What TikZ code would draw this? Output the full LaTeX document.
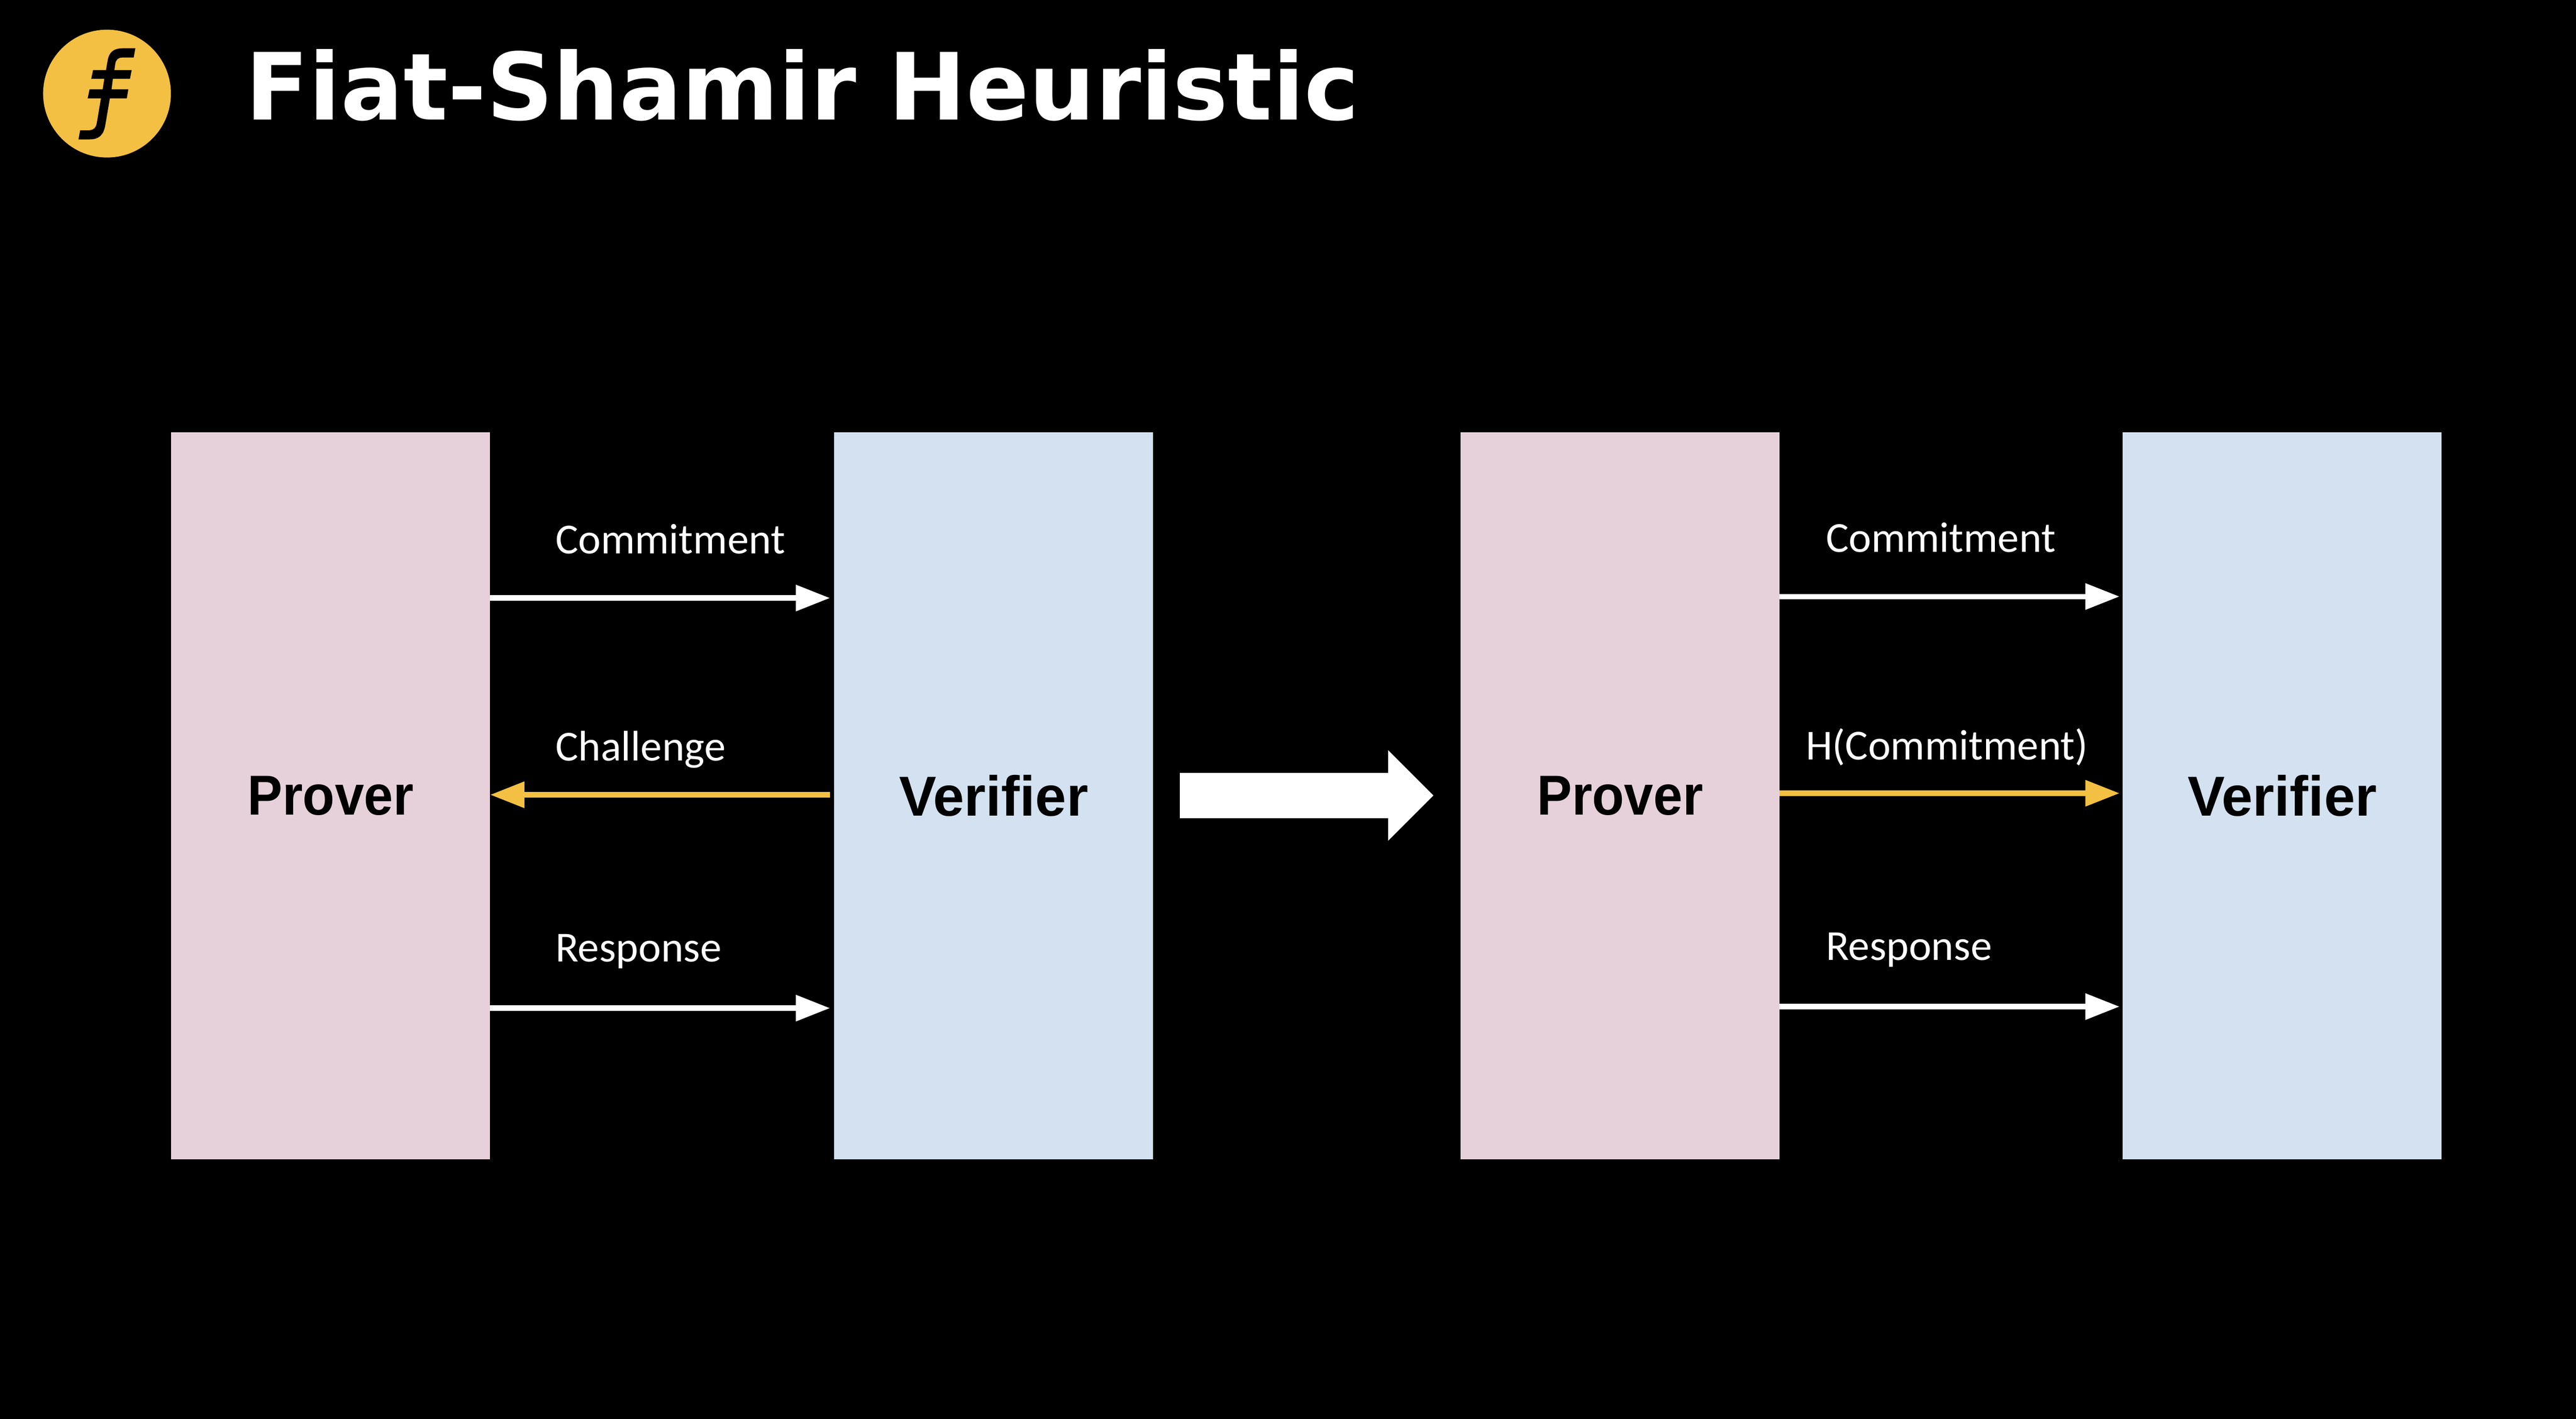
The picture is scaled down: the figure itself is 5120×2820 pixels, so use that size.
\documentclass[tikz,border=0pt]{standalone}
\usepackage{fontspec}
\setmainfont{Carlito}
\newfontfamily\titlefont{DejaVu Sans}[BoldFont={DejaVu Sans Bold}]
\newfontfamily\proverfont{Liberation Sans Bold}[FakeStretch=0.93]
\newfontfamily\verifierfont{Liberation Sans Bold}[FakeStretch=0.99]
\usetikzlibrary{arrows.meta}
\definecolor{pinkbox}{HTML}{E6D1DB}
\definecolor{bluebox}{HTML}{D3E1F1}
\definecolor{goldtone}{HTML}{F3C043}
\tikzset{
  actor/.style={rectangle,inner sep=0pt,minimum width=634pt,minimum height=1445pt,text=black},
  prover/.style={actor,fill=pinkbox,font=\proverfont\fontsize{112}{120}\selectfont},
  verifier/.style={actor,fill=bluebox,font=\verifierfont\fontsize{112}{120}\selectfont},
  flow/.style={line width=10.7pt,-{Triangle[length=68pt,width=50pt]}},
  msg/.style={anchor=base west,inner sep=0pt,text=white,font=\fontsize{85}{100}\selectfont},
}
\begin{document}
\begin{tikzpicture}[x=1pt,y=-1pt]
\useasboundingbox (0,0) rectangle (5120,2820);
\fill[black] (0,0) rectangle (5120,2820);
% logo
\node[circle,fill=goldtone,inner sep=0pt,minimum size=254pt] (logo) at (212.7,186) {};
\begin{scope}[shift={(80,50)},x=0.33333pt,y=-0.33333pt]
\fill[black] (567,138) -- (490,138) .. controls (440,138) and (412,160) .. (403,205)
 -- (392,268) -- (315,268) -- (304,320) -- (382,320) -- (372,383) -- (294,383) -- (283,436) -- (362,436)
 -- (337,585) .. controls (331,615) and (315,627) .. (285,627) -- (238,627) -- (228,681) -- (295,681)
 .. controls (350,681) and (378,655) .. (388,595) -- (415,436) -- (516,436) -- (525,383) -- (425,383)
 -- (433,320) -- (535,320) -- (545,268) -- (442,268) -- (447,232) .. controls (451,205) and (465,193) .. (490,193)
 -- (557,193) -- cycle;
\end{scope}
% title
\node[anchor=base west,inner sep=0pt,text=white,font=\titlefont\bfseries\fontsize{184.5}{200}\selectfont] (title) at (488,238) {Fiat-Shamir Heuristic};
% left
\node[prover] (p1) at (657,1581.5) {Prover};
\node[verifier] (v1) at (1975,1581.5) {Verifier};
\draw[flow,white] ([yshift=393pt]p1.east) -- ([yshift=393pt,xshift=-8pt]v1.west);
\draw[flow,goldtone] ([yshift=2pt,xshift=-8pt]v1.west) -- ([yshift=2pt]p1.east);
\draw[flow,white] ([yshift=-422pt]p1.east) -- ([yshift=-422pt,xshift=-8pt]v1.west);
\node[msg] (l1) at (1104,1100) {Commitment};
\node[msg] (l2) at (1104,1512) {Challenge};
\node[msg] (l3) at (1104,1911) {Response};
% big arrow
\fill[white] (2345,1536) -- (2759,1536) -- (2759,1491) -- (2849,1581) -- (2759,1671) -- (2759,1626) -- (2345,1626) -- cycle;
% right
\node[prover] (p2) at (3220,1581.5) {Prover};
\node[verifier] (v2) at (4536,1581.5) {Verifier};
\draw[flow,white] ([yshift=396pt]p2.east) -- ([yshift=396pt,xshift=-6pt]v2.west);
\draw[flow,goldtone] ([yshift=5pt]p2.east) -- ([yshift=5pt,xshift=-6pt]v2.west);
\draw[flow,white] ([yshift=-419pt]p2.east) -- ([yshift=-419pt,xshift=-6pt]v2.west);
\node[msg] (r1) at (3629,1097) {Commitment};
\node[msg] (r2) at (3589,1510) {H(Commitment)};
\node[msg] (r3) at (3629,1908) {Response};
\end{tikzpicture}
\end{document}
